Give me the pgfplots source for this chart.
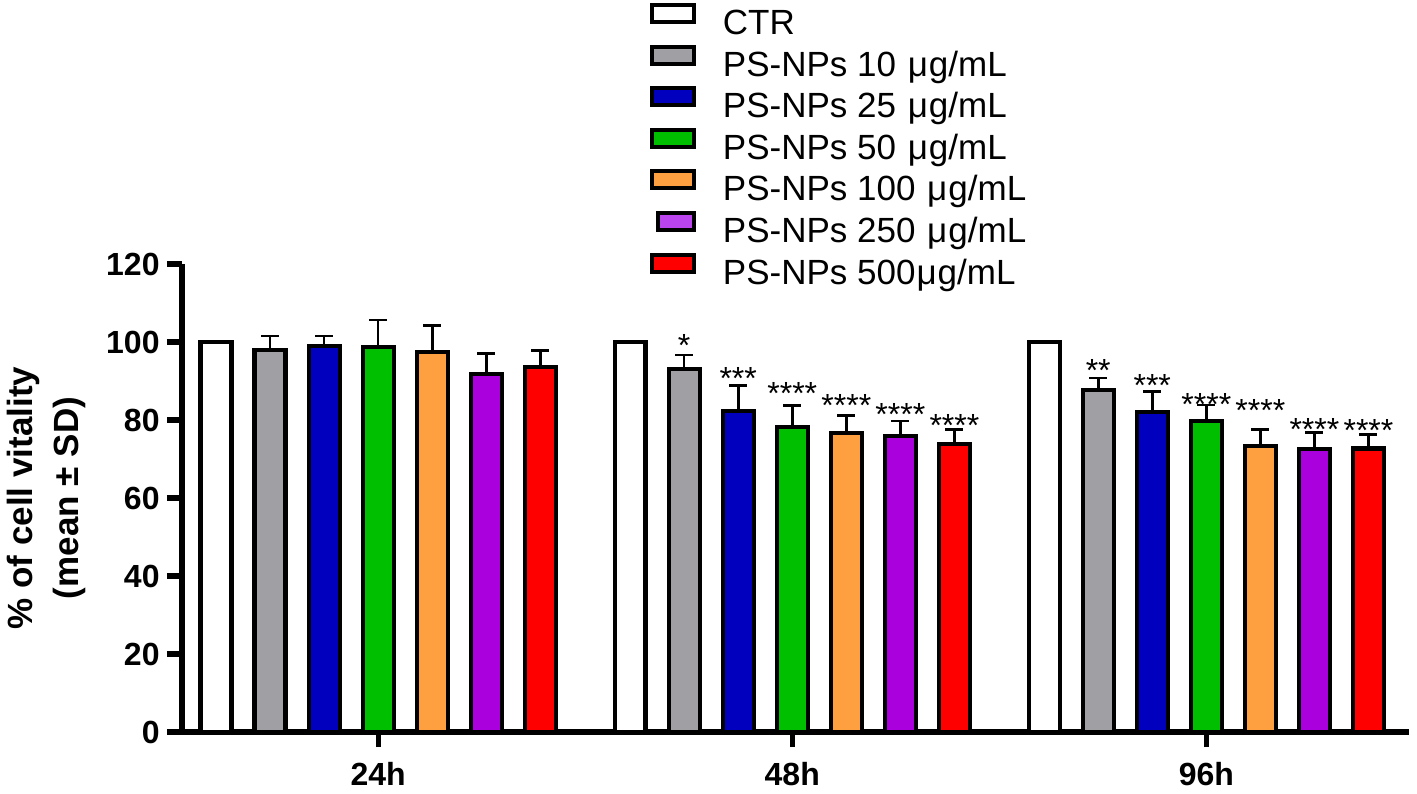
\documentclass[border=0pt]{standalone}
\usepackage{pgfplots}
\pgfplotsset{compat=1.18}
\usepackage{pgfplotstable}
\usepackage{fontspec}
\setmainfont{Liberation Sans}
\definecolor{cgray}{HTML}{A0A0A4}
\definecolor{cblue}{HTML}{0000BE}
\definecolor{cgreen}{HTML}{00BE00}
\definecolor{corange}{HTML}{FFA040}
\definecolor{cpurple}{HTML}{AA00DD}
\definecolor{cpurpleL}{HTML}{BB44EE}
\definecolor{cred}{HTML}{FF0000}
\newcommand{\mug}{\space\kern1pt μ\kern0.5pt g/mL}

\pgfplotstableread{
t ctr p10 e10 p25 e25 p50 e50 p100 e100 p250 e250 p500 e500
0 100 97.9 3.6 99.0 2.5 98.8 6.8 97.5 6.8 91.8 5.2 93.5 4.4
7.66 100 93.0 3.7 82.4 6.4 78.3 5.4 76.6 4.5 75.9 3.9 73.8 3.7
15.32 100 87.7 3.1 82.1 5.2 79.8 4.1 73.3 4.2 72.5 4.3 72.7 3.6
}\vitality

\pgfplotstableread{
x y s
8.66 100.8 *
9.66 92.4 ***
10.66 88.5 ****
11.66 85.6 ****
12.66 83.3 ****
13.66 80.3 ****
16.32 94.5 **
17.32 90.7 ***
18.32 85.8 ****
19.32 84.3 ****
20.32 79.3 ****
21.32 79.0 ****
}\stars

\pgfplotsset{
  mybar/.style={ybar, bar width=0.573, bar shift=0pt, draw=black, line width=2.1pt, line join=miter, fill=#1,
    legend image code/.code={\draw[##1, line width=2pt] (1pt,2.2pt) rectangle (22pt,10.7pt);}},
  myerr/.style={error bars/.cd, y dir=plus, y explicit,
    error bar style={line width=1.3pt, black},
    error mark options={rotate=90, mark size=4.5pt, line width=1.3pt, black}},
}

\begin{document}
\begin{tikzpicture}
\begin{axis}[
  scale only axis, width=613.5pt, height=234pt,
  xmin=-0.63, xmax=22.07, ymin=0, ymax=120,
  axis x line*=bottom, axis y line*=left,
  axis line style={line width=2.6pt, black},
  tick style={line width=2.6pt, black},
  major tick length=7.5pt, tick align=outside,
  xtick={3,10.66,18.32}, xticklabels={24h,48h,96h},
  ytick={0,20,...,120},
  ticklabel style={font=\bfseries\fontsize{16}{19}\selectfont},
  /pgf/number format/assume math mode=true,
  yticklabel style={inner sep=0pt, xshift=-3.5pt},
  xticklabel style={inner sep=0pt, yshift=-7.5pt},
  ylabel={\% of cell vitality\\(mean ± SD)},
  ylabel style={font=\bfseries\fontsize{17.5}{23}\selectfont, align=center,
    at={(axis description cs:-0.1108,0.5)}, anchor=center},
  clip=false,
  legend cell align=left,
  legend style={at={(0.3814,1.5577)}, anchor=north west, draw=none, fill=none,
    inner sep=0pt, outer sep=0pt, font=\fontsize{17.5}{21}\selectfont,
    nodes={inner sep=0pt, text height=11.5pt, text depth=3.5pt},
    row sep=1.6pt, column sep=13.5pt},
]
\path (rel axis cs:-0.1483,-0.1303) rectangle (rel axis cs:1.0065,1.5641);
\addplot[mybar=white] table[x expr=\thisrow{t}, y=ctr] {\vitality};
\addlegendentry{CTR}
\addplot[mybar=cgray, myerr] table[x expr=\thisrow{t}+1, y=p10, y error=e10] {\vitality};
\addlegendentry{PS-NPs 10\mug}
\addplot[mybar=cblue, myerr] table[x expr=\thisrow{t}+2, y=p25, y error=e25] {\vitality};
\addlegendentry{PS-NPs 25\mug}
\addplot[mybar=cgreen, myerr] table[x expr=\thisrow{t}+3, y=p50, y error=e50] {\vitality};
\addlegendentry{PS-NPs 50\mug}
\addplot[mybar=corange, myerr] table[x expr=\thisrow{t}+4, y=p100, y error=e100] {\vitality};
\addlegendentry{PS-NPs 100\mug}
\addplot[mybar=cpurple,
  legend image code/.code={\draw[black, fill=cpurpleL, line width=2pt, line join=miter] (4pt,2.2pt) rectangle (22pt,10.7pt);},
  myerr]
  table[x expr=\thisrow{t}+5, y=p250, y error=e250] {\vitality};
\addlegendentry{PS-NPs 250\mug}
\addplot[mybar=cred, myerr] table[x expr=\thisrow{t}+6, y=p500, y error=e500] {\vitality};
\addlegendentry{PS-NPs 500\kern0.5pt μ\kern0.5pt g/mL}
\addplot[draw=none, forget plot, nodes near coords, point meta=explicit symbolic,
  nodes near coords style={anchor=base, inner sep=0pt, yshift=-9pt, font=\fontsize{16}{19}\selectfont, black}]
  table[x=x, y=y, meta=s] {\stars};
\end{axis}
\end{tikzpicture}
\end{document}
